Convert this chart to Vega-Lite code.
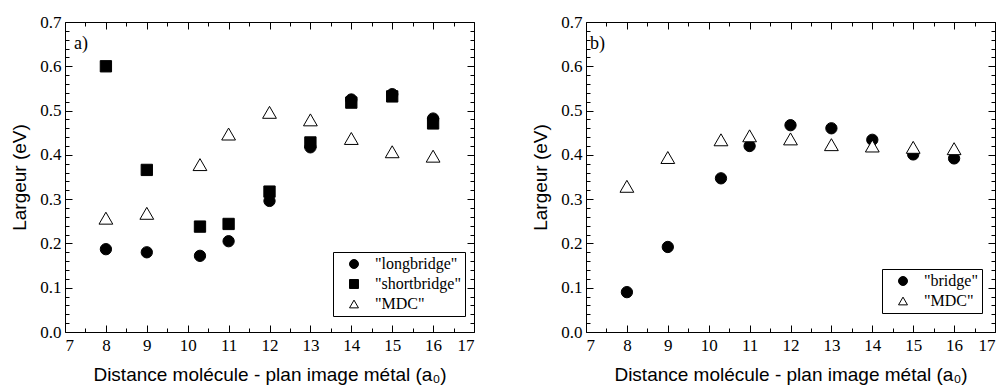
{
  "$schema": "https://vega.github.io/schema/vega-lite/v6.json",
  "background": "white",
  "padding": {"left": 10, "top": 12, "right": 5, "bottom": 0},
  "spacing": 56,
  "datasets": {
    "a": [
      {"serie": "longbridge", "distance": 8, "largeur": 0.187},
      {"serie": "longbridge", "distance": 9, "largeur": 0.180},
      {"serie": "longbridge", "distance": 10.3, "largeur": 0.172},
      {"serie": "longbridge", "distance": 11, "largeur": 0.205},
      {"serie": "longbridge", "distance": 12, "largeur": 0.296},
      {"serie": "longbridge", "distance": 13, "largeur": 0.417},
      {"serie": "longbridge", "distance": 14, "largeur": 0.525},
      {"serie": "longbridge", "distance": 15, "largeur": 0.537},
      {"serie": "longbridge", "distance": 16, "largeur": 0.482},
      {"serie": "shortbridge", "distance": 8, "largeur": 0.600},
      {"serie": "shortbridge", "distance": 9, "largeur": 0.366},
      {"serie": "shortbridge", "distance": 10.3, "largeur": 0.238},
      {"serie": "shortbridge", "distance": 11, "largeur": 0.244},
      {"serie": "shortbridge", "distance": 12, "largeur": 0.317},
      {"serie": "shortbridge", "distance": 13, "largeur": 0.428},
      {"serie": "shortbridge", "distance": 14, "largeur": 0.518},
      {"serie": "shortbridge", "distance": 15, "largeur": 0.532},
      {"serie": "shortbridge", "distance": 16, "largeur": 0.471},
      {"serie": "MDC", "distance": 8, "largeur": 0.257},
      {"serie": "MDC", "distance": 9, "largeur": 0.268},
      {"serie": "MDC", "distance": 10.3, "largeur": 0.378},
      {"serie": "MDC", "distance": 11, "largeur": 0.447},
      {"serie": "MDC", "distance": 12, "largeur": 0.496},
      {"serie": "MDC", "distance": 13, "largeur": 0.479},
      {"serie": "MDC", "distance": 14, "largeur": 0.437},
      {"serie": "MDC", "distance": 15, "largeur": 0.407},
      {"serie": "MDC", "distance": 16, "largeur": 0.397}
    ],
    "b": [
      {"serie": "bridge", "distance": 8, "largeur": 0.090},
      {"serie": "bridge", "distance": 9, "largeur": 0.192},
      {"serie": "bridge", "distance": 10.3, "largeur": 0.347},
      {"serie": "bridge", "distance": 11, "largeur": 0.420},
      {"serie": "bridge", "distance": 12, "largeur": 0.467},
      {"serie": "bridge", "distance": 13, "largeur": 0.460},
      {"serie": "bridge", "distance": 14, "largeur": 0.434},
      {"serie": "bridge", "distance": 15, "largeur": 0.401},
      {"serie": "bridge", "distance": 16, "largeur": 0.392},
      {"serie": "MDC", "distance": 8, "largeur": 0.329},
      {"serie": "MDC", "distance": 9, "largeur": 0.394},
      {"serie": "MDC", "distance": 10.3, "largeur": 0.434},
      {"serie": "MDC", "distance": 11, "largeur": 0.443},
      {"serie": "MDC", "distance": 12, "largeur": 0.436},
      {"serie": "MDC", "distance": 13, "largeur": 0.423},
      {"serie": "MDC", "distance": 14, "largeur": 0.420},
      {"serie": "MDC", "distance": 15, "largeur": 0.417},
      {"serie": "MDC", "distance": 16, "largeur": 0.414}
    ],
    "tags": [{"panel": "a)"}, {"panel": "b)"}]
  },
  "resolve": {
    "scale": {"shape": "independent", "fill": "independent", "stroke": "independent"},
    "legend": {"shape": "independent", "fill": "independent", "stroke": "independent"}
  },
  "hconcat": [
    {
      "width": 409,
      "height": 310,
      "resolve": {"axis": {"x": "independent", "y": "independent"}},
      "layer": [
        {
          "data": {"name": "a"},
          "transform": [{"filter": "datum.serie !== 'MDC'"}],
          "mark": {"type": "point", "opacity": 1, "size": 128, "strokeWidth": 1},
          "encoding": {
            "x": {"field": "distance", "type": "quantitative",
              "scale": {"domain": [7, 17], "nice": false, "zero": false},
              "axis": {"orient": "bottom", "values": [7, 8, 9, 10, 11, 12, 13, 14, 15, 16, 17], "format": "d", "tickColor": "black", "tickWidth": 1, "tickSize": -7, "labelPadding": 12, "labelFont": "Liberation Serif", "labelFontSize": 17, "labelColor": "black", "title": "Distance molécule - plan image métal (a₀)", "titleFont": "Liberation Sans", "titleFontSize": 19, "titleFontWeight": "normal", "titleColor": "black", "titlePadding": 12}},
            "y": {"field": "largeur", "type": "quantitative",
              "scale": {"domain": [0, 0.7], "nice": false, "zero": false},
              "axis": {"orient": "left", "values": [0, 0.1, 0.2, 0.3, 0.4, 0.5, 0.6, 0.7], "format": ".1f", "tickColor": "black", "tickWidth": 1, "tickSize": -7, "labelPadding": 11, "labelFont": "Liberation Serif", "labelFontSize": 17, "labelColor": "black", "title": "Largeur (eV)", "titleFont": "Liberation Sans", "titleFontSize": 19, "titleFontWeight": "normal", "titleColor": "black", "titlePadding": 10}},
            "shape": {"field": "serie", "type": "nominal",
              "scale": {"domain": ["longbridge", "shortbridge", "MDC"], "range": ["circle", "square", "triangle-up"]},
              "legend": {"title": null, "orient": "none", "legendX": 268, "legendY": 230, "labelExpr": "'\"' + datum.label + '\"'"}},
            "fill": {"field": "serie", "type": "nominal",
              "scale": {"domain": ["longbridge", "shortbridge", "MDC"], "range": ["black", "black", "white"]},
              "legend": {"title": null, "orient": "none", "legendX": 268, "legendY": 230, "labelExpr": "'\"' + datum.label + '\"'"}},
            "stroke": {"field": "serie", "type": "nominal",
              "scale": {"domain": ["longbridge", "shortbridge", "MDC"], "range": ["black", "black", "black"]},
              "legend": {"title": null, "orient": "none", "legendX": 268, "legendY": 230, "labelExpr": "'\"' + datum.label + '\"'"}}
          }
        },
        {
          "data": {"name": "a"},
          "transform": [{"filter": "datum.serie === 'MDC'"}],
          "mark": {"type": "point", "opacity": 1, "size": 190, "strokeWidth": 1},
          "encoding": {
            "x": {"field": "distance", "type": "quantitative", "scale": {"domain": [7, 17], "nice": false, "zero": false}, "axis": null},
            "y": {"field": "largeur", "type": "quantitative", "scale": {"domain": [0, 0.7], "nice": false, "zero": false}, "axis": null},
            "shape": {"field": "serie", "type": "nominal"},
            "fill": {"field": "serie", "type": "nominal"},
            "stroke": {"field": "serie", "type": "nominal"}
          }
        },
        {
          "data": {"name": "a"},
          "mark": {"type": "point", "opacity": 0},
          "encoding": {
            "x": {"field": "distance", "type": "quantitative", "scale": {"domain": [7, 17], "nice": false, "zero": false},
              "axis": {"orient": "bottom", "values": [7.5, 8.5, 9.5, 10.5, 11.5, 12.5, 13.5, 14.5, 15.5, 16.5], "labels": false, "tickColor": "black", "tickWidth": 1, "tickSize": -4, "title": null}},
            "y": {"field": "largeur", "type": "quantitative", "scale": {"domain": [0, 0.7], "nice": false, "zero": false},
              "axis": {"orient": "left", "values": [0.02, 0.04, 0.06, 0.08, 0.12, 0.14, 0.16, 0.18, 0.22, 0.24, 0.26, 0.28, 0.32, 0.34, 0.36, 0.38, 0.42, 0.44, 0.46, 0.48, 0.52, 0.54, 0.56, 0.58, 0.62, 0.64, 0.66, 0.68], "labels": false, "tickColor": "black", "tickWidth": 1, "tickSize": -4, "title": null}}
          }
        },
        {
          "data": {"name": "a"},
          "mark": {"type": "point", "opacity": 0},
          "encoding": {
            "x": {"field": "distance", "type": "quantitative", "scale": {"domain": [7, 17], "nice": false, "zero": false},
              "axis": {"orient": "top", "values": [7, 8, 9, 10, 11, 12, 13, 14, 15, 16, 17], "labels": false, "tickColor": "black", "tickWidth": 1, "tickSize": -7, "title": null}},
            "y": {"field": "largeur", "type": "quantitative", "scale": {"domain": [0, 0.7], "nice": false, "zero": false},
              "axis": {"orient": "right", "values": [0, 0.1, 0.2, 0.3, 0.4, 0.5, 0.6, 0.7], "labels": false, "tickColor": "black", "tickWidth": 1, "tickSize": -7, "title": null}}
          }
        },
        {
          "data": {"name": "a"},
          "mark": {"type": "point", "opacity": 0},
          "encoding": {
            "x": {"field": "distance", "type": "quantitative", "scale": {"domain": [7, 17], "nice": false, "zero": false},
              "axis": {"orient": "top", "values": [7.5, 8.5, 9.5, 10.5, 11.5, 12.5, 13.5, 14.5, 15.5, 16.5], "labels": false, "tickColor": "black", "tickWidth": 1, "tickSize": -4, "title": null}},
            "y": {"field": "largeur", "type": "quantitative", "scale": {"domain": [0, 0.7], "nice": false, "zero": false},
              "axis": {"orient": "right", "values": [0.02, 0.04, 0.06, 0.08, 0.12, 0.14, 0.16, 0.18, 0.22, 0.24, 0.26, 0.28, 0.32, 0.34, 0.36, 0.38, 0.42, 0.44, 0.46, 0.48, 0.52, 0.54, 0.56, 0.58, 0.62, 0.64, 0.66, 0.68], "labels": false, "tickColor": "black", "tickWidth": 1, "tickSize": -4, "title": null}}
          }
        },
        {
          "data": {"name": "tags"},
          "transform": [{"filter": "datum.panel === 'a)'"}],
          "mark": {"type": "text", "align": "left", "baseline": "middle", "font": "Liberation Serif", "fontSize": 18, "color": "black"},
          "encoding": {
            "x": {"datum": 7.22, "type": "quantitative", "axis": null},
            "y": {"datum": 0.65, "type": "quantitative", "axis": null},
            "text": {"field": "panel"}
          }
        }
      ]
    },
    {
      "width": 409,
      "height": 310,
      "resolve": {"axis": {"x": "independent", "y": "independent"}},
      "layer": [
        {
          "data": {"name": "b"},
          "transform": [{"filter": "datum.serie !== 'MDC'"}],
          "mark": {"type": "point", "opacity": 1, "size": 128, "strokeWidth": 1},
          "encoding": {
            "x": {"field": "distance", "type": "quantitative",
              "scale": {"domain": [7, 17], "nice": false, "zero": false},
              "axis": {"orient": "bottom", "values": [7, 8, 9, 10, 11, 12, 13, 14, 15, 16, 17], "format": "d", "tickColor": "black", "tickWidth": 1, "tickSize": -7, "labelPadding": 12, "labelFont": "Liberation Serif", "labelFontSize": 17, "labelColor": "black", "title": "Distance molécule - plan image métal (a₀)", "titleFont": "Liberation Sans", "titleFontSize": 19, "titleFontWeight": "normal", "titleColor": "black", "titlePadding": 12}},
            "y": {"field": "largeur", "type": "quantitative",
              "scale": {"domain": [0, 0.7], "nice": false, "zero": false},
              "axis": {"orient": "left", "values": [0, 0.1, 0.2, 0.3, 0.4, 0.5, 0.6, 0.7], "format": ".1f", "tickColor": "black", "tickWidth": 1, "tickSize": -7, "labelPadding": 11, "labelFont": "Liberation Serif", "labelFontSize": 17, "labelColor": "black", "title": "Largeur (eV)", "titleFont": "Liberation Sans", "titleFontSize": 19, "titleFontWeight": "normal", "titleColor": "black", "titlePadding": 10}},
            "shape": {"field": "serie", "type": "nominal",
              "scale": {"domain": ["bridge", "MDC"], "range": ["circle", "triangle-up"]},
              "legend": {"title": null, "orient": "none", "legendX": 296, "legendY": 247, "labelExpr": "'\"' + datum.label + '\"'"}},
            "fill": {"field": "serie", "type": "nominal",
              "scale": {"domain": ["bridge", "MDC"], "range": ["black", "white"]},
              "legend": {"title": null, "orient": "none", "legendX": 296, "legendY": 247, "labelExpr": "'\"' + datum.label + '\"'"}},
            "stroke": {"field": "serie", "type": "nominal",
              "scale": {"domain": ["bridge", "MDC"], "range": ["black", "black"]},
              "legend": {"title": null, "orient": "none", "legendX": 296, "legendY": 247, "labelExpr": "'\"' + datum.label + '\"'"}}
          }
        },
        {
          "data": {"name": "b"},
          "transform": [{"filter": "datum.serie === 'MDC'"}],
          "mark": {"type": "point", "opacity": 1, "size": 190, "strokeWidth": 1},
          "encoding": {
            "x": {"field": "distance", "type": "quantitative", "scale": {"domain": [7, 17], "nice": false, "zero": false}, "axis": null},
            "y": {"field": "largeur", "type": "quantitative", "scale": {"domain": [0, 0.7], "nice": false, "zero": false}, "axis": null},
            "shape": {"field": "serie", "type": "nominal"},
            "fill": {"field": "serie", "type": "nominal"},
            "stroke": {"field": "serie", "type": "nominal"}
          }
        },
        {
          "data": {"name": "b"},
          "mark": {"type": "point", "opacity": 0},
          "encoding": {
            "x": {"field": "distance", "type": "quantitative", "scale": {"domain": [7, 17], "nice": false, "zero": false},
              "axis": {"orient": "bottom", "values": [7.5, 8.5, 9.5, 10.5, 11.5, 12.5, 13.5, 14.5, 15.5, 16.5], "labels": false, "tickColor": "black", "tickWidth": 1, "tickSize": -4, "title": null}},
            "y": {"field": "largeur", "type": "quantitative", "scale": {"domain": [0, 0.7], "nice": false, "zero": false},
              "axis": {"orient": "left", "values": [0.02, 0.04, 0.06, 0.08, 0.12, 0.14, 0.16, 0.18, 0.22, 0.24, 0.26, 0.28, 0.32, 0.34, 0.36, 0.38, 0.42, 0.44, 0.46, 0.48, 0.52, 0.54, 0.56, 0.58, 0.62, 0.64, 0.66, 0.68], "labels": false, "tickColor": "black", "tickWidth": 1, "tickSize": -4, "title": null}}
          }
        },
        {
          "data": {"name": "b"},
          "mark": {"type": "point", "opacity": 0},
          "encoding": {
            "x": {"field": "distance", "type": "quantitative", "scale": {"domain": [7, 17], "nice": false, "zero": false},
              "axis": {"orient": "top", "values": [7, 8, 9, 10, 11, 12, 13, 14, 15, 16, 17], "labels": false, "tickColor": "black", "tickWidth": 1, "tickSize": -7, "title": null}},
            "y": {"field": "largeur", "type": "quantitative", "scale": {"domain": [0, 0.7], "nice": false, "zero": false},
              "axis": {"orient": "right", "values": [0, 0.1, 0.2, 0.3, 0.4, 0.5, 0.6, 0.7], "labels": false, "tickColor": "black", "tickWidth": 1, "tickSize": -7, "title": null}}
          }
        },
        {
          "data": {"name": "b"},
          "mark": {"type": "point", "opacity": 0},
          "encoding": {
            "x": {"field": "distance", "type": "quantitative", "scale": {"domain": [7, 17], "nice": false, "zero": false},
              "axis": {"orient": "top", "values": [7.5, 8.5, 9.5, 10.5, 11.5, 12.5, 13.5, 14.5, 15.5, 16.5], "labels": false, "tickColor": "black", "tickWidth": 1, "tickSize": -4, "title": null}},
            "y": {"field": "largeur", "type": "quantitative", "scale": {"domain": [0, 0.7], "nice": false, "zero": false},
              "axis": {"orient": "right", "values": [0.02, 0.04, 0.06, 0.08, 0.12, 0.14, 0.16, 0.18, 0.22, 0.24, 0.26, 0.28, 0.32, 0.34, 0.36, 0.38, 0.42, 0.44, 0.46, 0.48, 0.52, 0.54, 0.56, 0.58, 0.62, 0.64, 0.66, 0.68], "labels": false, "tickColor": "black", "tickWidth": 1, "tickSize": -4, "title": null}}
          }
        },
        {
          "data": {"name": "tags"},
          "transform": [{"filter": "datum.panel === 'b)'"}],
          "mark": {"type": "text", "align": "left", "baseline": "middle", "font": "Liberation Serif", "fontSize": 18, "color": "black"},
          "encoding": {
            "x": {"datum": 7.1, "type": "quantitative", "axis": null},
            "y": {"datum": 0.65, "type": "quantitative", "axis": null},
            "text": {"field": "panel"}
          }
        }
      ]
    }
  ],
  "config": {
    "view": {"stroke": "black", "strokeWidth": 1},
    "axis": {"domain": false, "grid": false, "labelOverlap": false},
    "legend": {
      "strokeColor": "black", "fillColor": "white", "padding": 4,
      "labelFont": "Liberation Serif", "labelFontSize": 16, "labelColor": "black",
      "symbolSize": 80, "symbolStrokeWidth": 1,
      "symbolOffset": 9, "labelOffset": 13, "rowPadding": 4, "cornerRadius": 0
    }
  }
}
